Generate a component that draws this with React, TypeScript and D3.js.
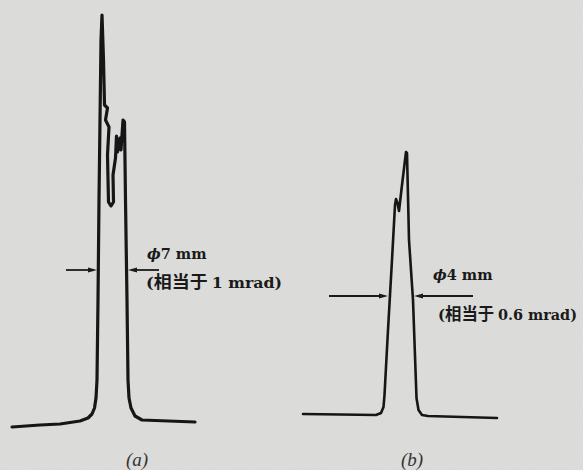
import React, { useEffect, useRef } from 'react';
import * as d3 from 'd3';

// trace (a): [position, intensity]
const profileA: [number, number][] = [
  [1.2, 0.3], [4.0, 0.5], [6.0, 0.6], [8.0, 0.9], [8.8, 1.2], [9.2, 1.6], [9.45, 2.2],
  [9.6, 3.2], [9.7, 5.0], [9.8, 13.0], [9.9, 23.0], [10.0, 31.0], [10.1, 39.0],
  [10.2, 41.5], [10.35, 37.0], [10.45, 32.5], [10.75, 32.2], [10.55, 31.0], [10.9, 30.3],
  [10.75, 27.5], [10.85, 22.8], [11.1, 22.4], [11.35, 22.8], [11.3, 25.5], [11.55, 27.2],
  [11.65, 29.4], [11.75, 27.8], [12.0, 29.2], [12.1, 28.0], [12.3, 31.0], [12.45, 30.8],
  [12.55, 23.0], [12.7, 13.0], [12.8, 5.0], [12.9, 3.2], [13.1, 2.2], [13.5, 1.4],
  [14.2, 1.0], [19.5, 0.8],
];

// trace (b)
const profileB: [number, number][] = [
  [30.3, 1.6], [34.0, 1.55], [37.6, 1.5], [38.1, 1.7], [38.35, 2.3], [38.45, 3.5],
  [38.8, 10.0], [39.2, 17.0], [39.5, 22.5], [39.6, 23.1], [39.75, 22.7], [39.9, 21.9],
  [40.2, 24.5], [40.6, 27.8], [40.7, 27.7], [40.9, 19.0], [41.3, 13.0], [41.55, 6.0],
  [41.65, 3.2], [41.85, 2.0], [42.2, 1.5], [42.8, 1.4], [49.7, 1.2],
];

// width markers: [left edge, right edge, level, tail length]
const markerA = [9.7, 12.8, 16.0, 3.1];
const markerB = [38.8, 41.4, 13.4, 5.9];

// [diameter, equivalent divergence]
const labelsA = ['\u03d57 mm', '1 mrad'];
const labelsB = ['\u03d54 mm', '0.6 mrad'];
const equivText = '相当于';
const panelNames = ['(a)', '(b)'];

const App = () => {
  const svgRef = useRef<SVGSVGElement>(null);

  useEffect(() => {
    const svg = d3.select(svgRef.current);
    svg.selectAll('*').remove();

    const width = 583;
    const height = 470;

    const x = d3.scaleLinear().domain([0, 58.3]).range([0, width]);
    const y = d3.scaleLinear().domain([0, 43]).range([430, 0]);

    const defs = svg.append('defs');
    const f = defs.append('filter').attr('id', 'paper');
    f.append('feTurbulence').attr('type', 'fractalNoise').attr('baseFrequency', 0.8).attr('numOctaves', 2).attr('seed', 3);
    f.append('feColorMatrix').attr('type', 'matrix')
      .attr('values', '0 0 0 0 0.55  0 0 0 0 0.55  0 0 0 0 0.55  0 0 0 0.22 0');

    svg.append('rect').attr('width', width).attr('height', height).attr('fill', '#dededc');
    svg.append('rect').attr('width', width).attr('height', height).attr('filter', 'url(#paper)');

    const line = d3.line<[number, number]>()
      .x(d => x(d[0]))
      .y(d => y(d[1]))
      .curve(d3.curveLinear);

    svg.append('path')
      .datum(profileA)
      .attr('d', line)
      .attr('fill', 'none')
      .attr('stroke', '#161616')
      .attr('stroke-width', 3.2)
      .attr('stroke-linejoin', 'round')
      .attr('stroke-linecap', 'round');

    svg.append('path')
      .datum(profileB)
      .attr('d', line)
      .attr('fill', 'none')
      .attr('stroke', '#161616')
      .attr('stroke-width', 2.6)
      .attr('stroke-linejoin', 'round')
      .attr('stroke-linecap', 'round');

    const drawMarker = (m: number[]) => {
      const [l, r, lvl, tail] = m;
      const yy = y(lvl);
      const g = svg.append('g').attr('stroke', '#1a1a1a').attr('fill', '#1a1a1a');
      // left arrow pointing right
      g.append('line').attr('x1', x(l - tail)).attr('x2', x(l) - 4).attr('y1', yy).attr('y2', yy).attr('stroke-width', 1.8);
      g.append('path')
        .attr('d', `M${x(l)},${yy} L${x(l) - 9},${yy - 2.5} L${x(l) - 9},${yy + 2.5} Z`)
        .attr('stroke', 'none');
      // right arrow pointing left
      g.append('line').attr('x1', x(r) + 4).attr('x2', x(r + tail)).attr('y1', yy).attr('y2', yy).attr('stroke-width', 1.8);
      g.append('path')
        .attr('d', `M${x(r)},${yy} L${x(r) + 9},${yy - 2.5} L${x(r) + 9},${yy + 2.5} Z`)
        .attr('stroke', 'none');
    };
    drawMarker(markerA);
    drawMarker(markerB);

    const serif = '"DejaVu Serif", "Liberation Serif", serif';
    const drawLabels = (labels: string[], x0: number, x1: number, y0: number, y1: number, len: number) => {
      const t = svg.append('text')
        .attr('x', x0).attr('y', y0)
        .attr('font-family', serif)
        .attr('font-weight', 'bold')
        .attr('font-size', 14.5)
        .attr('fill', '#1a1a1a');
      t.append('tspan').attr('font-style', 'italic').text(labels[0].slice(0, 1));
      t.append('tspan').text(labels[0].slice(1));

      const t2 = svg.append('text')
        .attr('x', x1).attr('y', y1)
        .attr('font-weight', 'bold')
        .attr('fill', '#1a1a1a')
        .attr('textLength', len)
        .attr('lengthAdjust', 'spacingAndGlyphs');
      t2.append('tspan').attr('font-family', serif).attr('font-size', 15).text('(');
      t2.append('tspan').attr('font-family', '"Noto Sans CJK SC", sans-serif').attr('font-size', 16.5).text(equivText + ' ');
      t2.append('tspan').attr('font-family', serif).attr('font-size', 14.5).text(labels[1] + ')');
    };
    drawLabels(labelsA, 147, 146, 259, 288, 136);
    drawLabels(labelsB, 433, 438, 280, 320, 139);

    svg.selectAll('text.panel')
      .data(panelNames)
      .enter()
      .append('text')
      .attr('class', 'panel')
      .attr('x', (d, i) => (i === 0 ? x(13.7) : x(41.2)))
      .attr('y', 466)
      .attr('text-anchor', 'middle')
      .attr('font-family', '"Liberation Serif", serif')
      .attr('font-style', 'italic')
      .attr('font-size', 19)
      .attr('fill', '#333')
      .text(d => d);
  }, []);

  return <svg ref={svgRef} width={583} height={470} style={{ position: 'absolute', left: 0, top: 0 }}></svg>;
};

export default App;
